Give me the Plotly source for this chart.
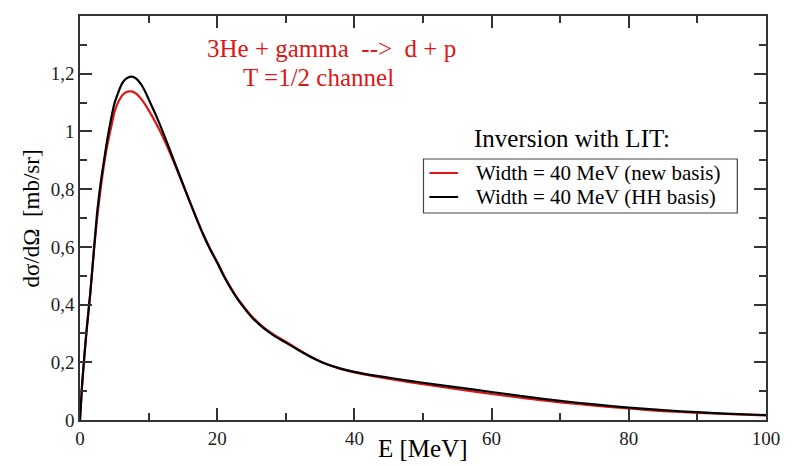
import plotly.graph_objects as go

# ---- data ----
energy = [0, 0.3, 0.7, 1, 1.5, 2, 2.5, 3, 3.5, 4,
          4.5, 5, 5.5, 6, 6.5, 7, 7.5, 8, 8.5, 9,
          9.5, 10, 11, 12, 13, 14, 15, 16, 17, 18,
          19, 20, 21, 22, 23, 24, 25, 26, 27, 28,
          29, 30, 32, 34, 36, 38, 40, 43, 46, 50,
          55, 60, 65, 70, 75, 80, 85, 90, 95, 100]

sigma_hh = [0, 0.12, 0.24, 0.32, 0.44, 0.58, 0.72, 0.82, 0.90, 0.975,
            1.04, 1.095, 1.13, 1.16, 1.178, 1.187, 1.19, 1.186, 1.176, 1.16,
            1.138, 1.112, 1.06, 1.003, 0.942, 0.88, 0.818, 0.757, 0.697, 0.64,
            0.59, 0.545, 0.497, 0.455, 0.418, 0.386, 0.357, 0.334, 0.314, 0.297,
            0.282, 0.268, 0.24, 0.214, 0.193, 0.178, 0.167, 0.154, 0.143, 0.129,
            0.113, 0.097, 0.081, 0.066, 0.054, 0.043, 0.034, 0.027, 0.021, 0.017]

sigma_new = [0, 0.12, 0.24, 0.32, 0.44, 0.58, 0.70, 0.80, 0.885, 0.955,
             1.01, 1.065, 1.098, 1.12, 1.133, 1.138, 1.139, 1.134, 1.124, 1.11,
             1.093, 1.074, 1.032, 0.985, 0.932, 0.875, 0.816, 0.757, 0.698, 0.642,
             0.592, 0.548, 0.5, 0.458, 0.421, 0.389, 0.36, 0.337, 0.317, 0.3,
             0.285, 0.271, 0.242, 0.215, 0.193, 0.177, 0.165, 0.151, 0.139, 0.124,
             0.107, 0.09, 0.075, 0.061, 0.05, 0.04, 0.031, 0.025, 0.02, 0.016]

y_tickvals = [0, 0.2, 0.4, 0.6, 0.8, 1.0, 1.2]
y_ticktext = ["0", "0,2", "0,4", "0,6", "0,8", "1", "1,2"]

name_new = "Width = 40 MeV (new basis)"
name_hh = "Width = 40 MeV (HH basis)"

RED = "rgb(222,22,22)"
SERIF = "Liberation Serif, Times New Roman, Times, DejaVu Serif, serif"
AX = "#333333"

fig = go.Figure()
fig.add_trace(go.Scatter(x=energy, y=sigma_new, mode="lines", name=name_new,
                         line=dict(color=RED, width=2.2, shape="spline", smoothing=0.5),
                         showlegend=False))
fig.add_trace(go.Scatter(x=energy, y=sigma_hh, mode="lines", name=name_hh,
                         line=dict(color="black", width=2.2, shape="spline", smoothing=0.5),
                         showlegend=False))

axis_common = dict(showline=True, linecolor=AX, linewidth=1.5, mirror="ticks",
                   ticks="inside", ticklen=12, tickwidth=1.5, tickcolor=AX,
                   showgrid=False, zeroline=False,
                   tickfont=dict(family=SERIF, size=19, color="#222"))

fig.update_xaxes(range=[0, 100], tickmode="linear", dtick=20, tick0=0,
                 minor=dict(tickmode="linear", dtick=10, tick0=0, ticklen=7,
                            ticks="inside", tickwidth=1.5, tickcolor=AX),
                 **axis_common)
fig.update_yaxes(range=[0, 1.4], tickmode="array", tickvals=y_tickvals, ticktext=y_ticktext,
                 minor=dict(tickmode="linear", dtick=0.1, tick0=0, ticklen=7,
                            ticks="inside", tickwidth=1.5, tickcolor=AX),
                 **axis_common)

W, H = 792, 466
L, R, T, B = 80, 19, 16, 46
pw, ph = W - L - R, H - T - B

def px(x):
    return (x - L) / pw

def py(y):
    return (H - B - y) / ph

annotations = [
    dict(text="3He + gamma \u00a0--> \u00a0d + p", x=px(334), y=py(49),
         font=dict(family=SERIF, size=25, color=RED)),
    dict(text="T =1/2 channel", x=px(321), y=py(77),
         font=dict(family=SERIF, size=25, color=RED)),
    dict(text="Inversion with LIT:", x=px(577), y=py(138),
         font=dict(family=SERIF, size=25, color="black")),
    dict(text="E [MeV]", x=px(427), y=py(448),
         font=dict(family=SERIF, size=25, color="black")),
    dict(text="dσ/dΩ \u00a0[mb/sr]", x=px(31), y=py(218), textangle=-90,
         font=dict(family=SERIF, size=23, color="black")),
    dict(text=name_new, x=px(478), y=py(173), xanchor="left",
         font=dict(family=SERIF, size=21, color="black")),
    dict(text=name_hh, x=px(478), y=py(197), xanchor="left",
         font=dict(family=SERIF, size=21, color="black")),
]
for a in annotations:
    a.setdefault("xanchor", "center")
    a.update(xref="paper", yref="paper", yanchor="middle", showarrow=False)

shapes = [
    dict(type="rect", xref="paper", yref="paper", x0=px(427), x1=px(744),
         y0=py(213), y1=py(159), line=dict(color="#444", width=1.2), fillcolor="white",
         layer="below"),
    dict(type="line", xref="paper", yref="paper", x0=px(433), x1=px(462),
         y0=py(173), y1=py(173), line=dict(color=RED, width=2)),
    dict(type="line", xref="paper", yref="paper", x0=px(433), x1=px(462),
         y0=py(197), y1=py(197), line=dict(color="black", width=2)),
]

fig.update_layout(width=W, height=H, margin=dict(l=L, r=R, t=T, b=B),
                  paper_bgcolor="white", plot_bgcolor="white",
                  annotations=annotations, shapes=shapes,
                  font=dict(family=SERIF))

fig.write_html("out.html")
